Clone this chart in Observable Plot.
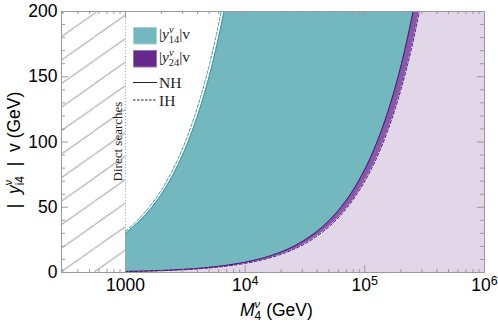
<!DOCTYPE html>
<html><head><meta charset="utf-8">
<script src="https://cdn.jsdelivr.net/npm/d3@7"></script>
<script src="https://cdn.jsdelivr.net/npm/@observablehq/plot@0.6"></script>
<style>body{margin:0;background:#fff} svg{display:block}</style>
</head><body><div id="chart"></div>
<script>
// ---- data ----
const xDomain = [292, 1000000];
const yDomain = [0, 200];
const directLimit = 1000;

// |y14| v region, upper boundary (NH solid, IH dashed)
const upperNH_y = [30, 40, 50, 60, 80, 100, 120, 140, 160, 180, 200];
const upperNH_M = [1000, 1333, 1667, 2000, 2667, 3333, 4000, 4667, 5333, 6000, 6667];
const upperIH_y = [31.7, 40, 50, 60, 80, 100, 120, 140, 160, 180, 200];
const upperIH_M = [1000, 1262, 1577, 1893, 2524, 3155, 3785, 4416, 5047, 5678, 6310];
// lower boundaries (teal / purple edge, NH solid) and (purple lower edge, IH dashed)
const lowerNH_y = [0, 0.79, 1, 2, 3, 5, 7, 10, 15, 20, 30, 40, 50, 60, 80, 100, 120, 140, 160, 180, 200];
const lowerNH_M = [1000, 1000, 1266, 2532, 3797, 6329, 8861, 12658, 18987, 25316, 37975, 50633, 63291, 75949, 101266, 126582, 151899, 177215, 202532, 227848, 253165];
const lowerIH_y = [0, 0.7, 1, 2, 3, 5, 7, 10, 15, 20, 30, 40, 50, 60, 80, 100, 120, 140, 160, 180, 200];
const lowerIH_M = [1000, 1000, 1429, 2857, 4286, 7143, 10000, 14286, 21429, 28571, 42857, 57143, 71429, 85714, 114286, 142857, 171429, 200000, 228571, 257143, 285714];

const xMajorTicks = [1000, 10000, 100000, 1000000];
const xTickLabels = ["1000", "10^4", "10^5", "10^6"];
const xMinorTicks = [300, 400, 500, 600, 700, 800, 900,
  2000, 3000, 4000, 5000, 6000, 7000, 8000, 9000,
  20000, 30000, 40000, 50000, 60000, 70000, 80000, 90000,
  200000, 300000, 400000, 500000, 600000, 700000, 800000, 900000];
const yMajorTicks = [0, 50, 100, 150, 200];
const yMinorTicks = [10, 20, 30, 40, 60, 70, 80, 90, 110, 120, 130, 140, 160, 170, 180, 190];

const legendSeries = ["14", "24"];
const legendLines = ["NH", "IH"];
const directLabel = "Direct searches";

// ---- styling ----
const TEAL = "#73b8bf", TEAL_LINE = "#3a9ea7", BAND = "#8a58ab", PURPLE = "#66288a",
      PURPLE_LINE = "#4b1a72", LAVENDER = "#e2d6e9", GRAY = "#9a9a9a";
const SERIF = "'Liberation Serif', 'Times New Roman', serif";

const tbl = (ys, ms) => ys.map((y, i) => ({y, M: ms[i]}));
const upperNH = tbl(upperNH_y, upperNH_M);
const upperIH = tbl(upperIH_y, upperIH_M);
const lowerNH = tbl(lowerNH_y, lowerNH_M);
const lowerIH = tbl(lowerIH_y, lowerIH_M);

const plot = Plot.plot({
  width: 498, height: 325,
  marginLeft: 61, marginRight: 14, marginTop: 11, marginBottom: 53,
  style: {fontFamily: "'Liberation Sans', Arial, sans-serif", fontSize: "17.5px", background: "white", overflow: "visible"},
  x: {type: "log", domain: xDomain, label: null},
  y: {domain: yDomain, label: null},
  marks: [
    Plot.rect([0], {x1: xDomain[0], x2: directLimit, y1: yDomain[0], y2: yDomain[1], fill: "url(#hatch)"}),
    Plot.rect([0], {x1: directLimit, x2: xDomain[1], y1: yDomain[0], y2: yDomain[1], fill: TEAL}),
    Plot.areaX(upperNH, {y: "y", x1: directLimit, x2: "M", fill: "white", curve: "monotone-y"}),
    Plot.areaX(lowerNH, {y: "y", x1: "M", x2: xDomain[1], fill: BAND, curve: "monotone-y"}),
    Plot.areaX(lowerIH, {y: "y", x1: "M", x2: xDomain[1], fill: LAVENDER, curve: "monotone-y"}),
    Plot.ruleX([directLimit], {stroke: "#aaa", strokeDasharray: "1.2,1.8", strokeWidth: 1}),
    Plot.line(upperIH, {x: "M", y: "y", stroke: TEAL_LINE, strokeWidth: 1, strokeDasharray: "3,2", curve: "monotone-y"}),
    Plot.line(upperNH, {x: "M", y: "y", stroke: TEAL_LINE, strokeWidth: 1, curve: "monotone-y"}),
    Plot.line(lowerNH, {x: "M", y: "y", stroke: PURPLE_LINE, strokeWidth: 1, curve: "monotone-y"}),
    Plot.line(lowerIH, {x: "M", y: "y", stroke: PURPLE_LINE, strokeWidth: 1, strokeDasharray: "3,2", curve: "monotone-y"}),
    Plot.frame({stroke: GRAY}),
    Plot.tickX(xMajorTicks, {x: d => d, stroke: GRAY, insetTop: 254}),
    Plot.tickX(xMajorTicks, {x: d => d, stroke: GRAY, insetBottom: 254}),
    Plot.tickX(xMinorTicks, {x: d => d, stroke: GRAY, insetTop: 258}),
    Plot.tickX(xMinorTicks, {x: d => d, stroke: GRAY, insetBottom: 258}),
    Plot.tickY(yMajorTicks, {y: d => d, stroke: GRAY, insetRight: 416}),
    Plot.tickY(yMajorTicks, {y: d => d, stroke: GRAY, insetLeft: 416}),
    Plot.tickY(yMinorTicks, {y: d => d, stroke: GRAY, insetRight: 419}),
    Plot.tickY(yMinorTicks, {y: d => d, stroke: GRAY, insetLeft: 419}),
    Plot.axisX({ticks: xMajorTicks, tickSize: 0, tickPadding: 6, tickFormat: d => xTickLabels[xMajorTicks.indexOf(d)], label: null}),
    Plot.axisY({ticks: yMajorTicks, tickSize: 0, tickPadding: 4, label: null})
  ]
});

const sx = plot.scale("x"), sy = plot.scale("y");
const svg = d3.select(plot);

// hatch pattern
const pat = svg.insert("defs", ":first-child").append("pattern")
  .attr("id", "hatch").attr("patternUnits", "userSpaceOnUse")
  .attr("x", sx.apply(xDomain[0])).attr("y", sy.apply(0))
  .attr("width", 33.3).attr("height", 23.5);
pat.append("rect").attr("width", 33.3).attr("height", 23.5).attr("fill", "white");
pat.append("line").attr("x1", -1).attr("y1", 24.2).attr("x2", 34.3).attr("y2", -0.7)
  .attr("stroke", "#a8a8a8").attr("stroke-width", 1);

// superscripts in x tick labels
svg.selectAll('g[aria-label="x-axis tick label"] text').each(function() {
  const t = this.textContent;
  if (t.includes("^")) {
    const [b, e] = t.split("^");
    const s = d3.select(this); s.text("");
    s.append("tspan").text(b);
    s.append("tspan").attr("dy", "-0.45em").attr("font-size", "12.5px").text(e);
  }
});

// axis titles
const xt = svg.append("text").attr("x", 240).attr("y", 316).attr("text-anchor", "start")
  .attr("font-size", 17.5).attr("fill", "black").style("white-space", "pre");
xt.append("tspan").attr("font-style", "italic").text("M");
xt.append("tspan").attr("font-size", 11).attr("font-style", "italic").attr("dy", -8).text("ν");
xt.append("tspan").attr("font-size", 12).attr("dx", -5.5).attr("dy", 12).text("4");
xt.append("tspan").attr("dy", -4).text(" (GeV)");

const yt = svg.append("text").attr("transform", "translate(20,150) rotate(-90)")
  .attr("text-anchor", "middle").attr("font-size", 17.5).attr("fill", "black").style("white-space", "pre");
yt.append("tspan").text("|  ");
yt.append("tspan").attr("font-style", "italic").text("y");
yt.append("tspan").attr("font-size", 11).attr("dy", -8).text("ν");
yt.append("tspan").attr("font-size", 12).attr("dx", -5.5).attr("dy", 12).text("i4");
yt.append("tspan").attr("dy", -4).text("  |  v (GeV)");

// direct searches label
svg.append("text")
  .attr("transform", `translate(${sx.apply(directLimit) - 3},${sy.apply(100)}) rotate(-90)`)
  .attr("text-anchor", "middle").attr("font-family", SERIF)
  .attr("font-size", 13).attr("fill", "#222").text(directLabel);

// legend
const lg = svg.append("g").attr("font-family", SERIF).attr("font-size", 15.5)
  .attr("fill", "#222").attr("text-anchor", "start");
[[TEAL, "#a6d3d8"], [PURPLE, "#9b74b8"]].forEach(([c, b], i) => {
  const y0 = 27 + i * 23;
  lg.append("rect").attr("x", 133.5).attr("y", y0 + 0.5).attr("width", 23).attr("height", 16.5)
    .attr("fill", c).attr("stroke", b).attr("stroke-width", 1);
  const t = lg.append("text").attr("x", 159).attr("y", y0 + 12).attr("text-anchor", "start");
  t.append("tspan").text("|");
  t.append("tspan").attr("font-style", "italic").text("y");
  t.append("tspan").attr("font-size", 10.5).attr("font-style", "italic").attr("dy", -6).text("ν");
  t.append("tspan").attr("font-size", 10.5).attr("dx", -5).attr("dy", 10).text(legendSeries[i]);
  t.append("tspan").attr("dy", -4).text("|v");
});
legendLines.forEach((name, i) => {
  const y0 = 82.5 + i * 17.5;
  lg.append("line").attr("x1", 133).attr("x2", 157).attr("y1", y0).attr("y2", y0)
    .attr("stroke", "#222").attr("stroke-width", 1).attr("stroke-dasharray", i ? "2.5,1.5" : null);
  lg.append("text").attr("x", 159).attr("y", y0 + 5.5).attr("text-anchor", "start").text(name);
});

document.getElementById("chart").appendChild(plot);
</script>
</body></html>
